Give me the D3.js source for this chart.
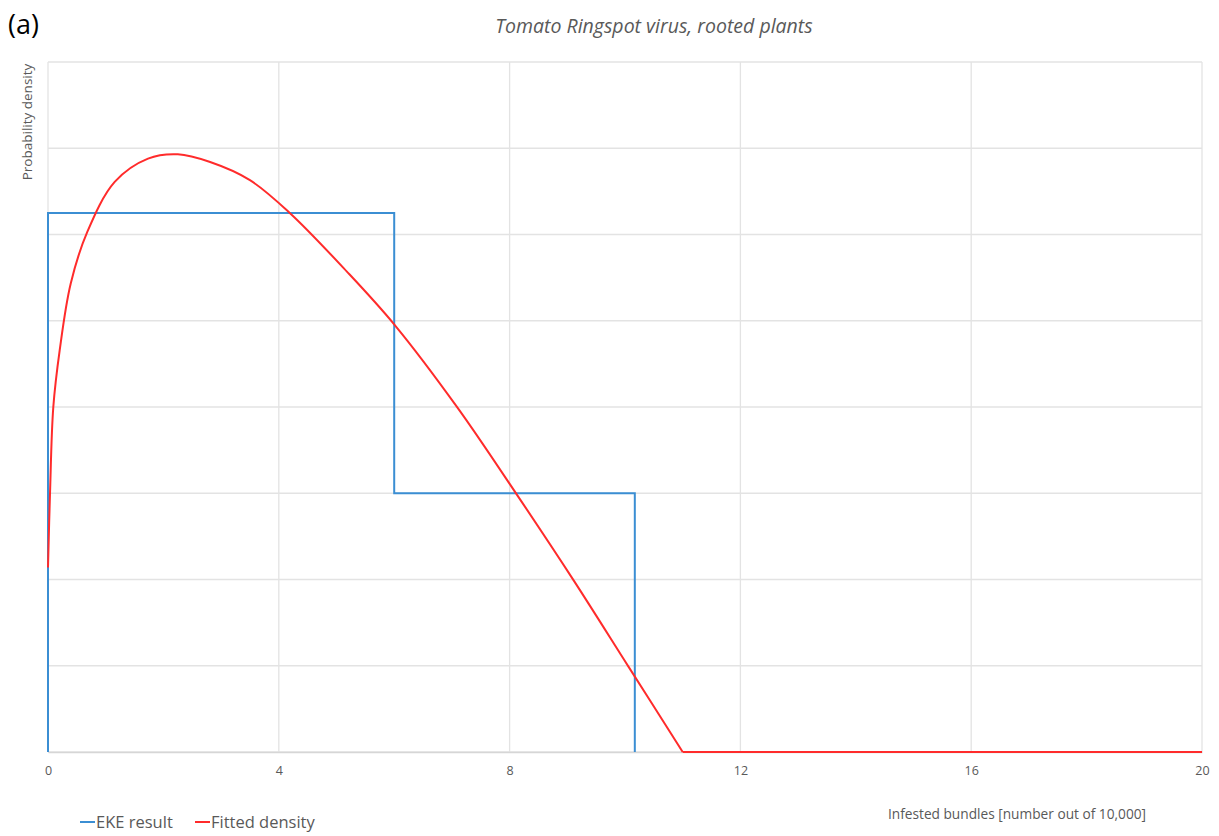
<!DOCTYPE html>
<html><head><meta charset="utf-8">
<script src="https://cdn.jsdelivr.net/npm/d3@7"></script>
<style>body{margin:0;background:#fff}svg{display:block}</style>
</head><body>
<svg id="chart" width="1219" height="836"></svg>
<script>
const xTicks = [0, 4, 8, 12, 16, 20];
const yGrid = [0, 1, 2, 3, 4, 5, 6, 7, 8];
const ekeX = [0, 0, 6, 6, 10.17, 10.17];
const ekeY = [0, 6.25, 6.25, 3, 3, 0];
const fitX = [0, 0.035, 0.092, 0.203, 0.393, 0.681, 1.156, 1.733, 2.25, 2.81, 3.5, 4.19, 5.18, 6.01, 7.1, 8.12, 9.11, 10.06, 11.0, 20];
const fitY = [2.14, 3.0, 4.0, 4.66, 5.43, 6.03, 6.61, 6.88, 6.93, 6.84, 6.63, 6.25, 5.57, 4.95, 3.99, 2.99, 1.99, 0.99, 0, 0];
const seriesNames = ["EKE result", "Fitted density"];
const colors = ["#3b8ed3", "#ff2b2b"];

const svg = d3.select("#chart");
const m = {left: 48, right: 1202, top: 62, bottom: 752};
const x = d3.scaleLinear().domain([0, 20]).range([m.left, m.right]);
const y = d3.scaleLinear().domain([0, 8]).range([m.bottom, m.top]);
const font = "'Open Sans', 'Noto Sans', sans-serif";

// gridlines
svg.append("g").selectAll("line").data(yGrid).join("line")
  .attr("x1", m.left).attr("x2", m.right)
  .attr("y1", d => y(d)).attr("y2", d => y(d))
  .attr("stroke", "#e3e3e3").attr("stroke-width", 1.3);
svg.append("g").selectAll("line").data(xTicks).join("line")
  .attr("x1", d => x(d)).attr("x2", d => x(d))
  .attr("y1", m.top).attr("y2", m.bottom)
  .attr("stroke", "#e3e3e3").attr("stroke-width", 1.3);

// x axis
const xAxis = d3.axisBottom(x).tickValues(xTicks).tickSize(0).tickPadding(14);
const gx = svg.append("g").attr("transform", `translate(0,${m.bottom})`).call(xAxis);
gx.select(".domain").attr("stroke", "#d6d6d6").attr("stroke-width", 1.5);
gx.selectAll("text").attr("font-family", font).attr("font-size", 12.5).attr("fill", "#595959");

// lines
const lineLin = d3.line().x(d => x(d[0])).y(d => y(d[1]));
const lineSmooth = d3.line().x(d => x(d[0])).y(d => y(d[1])).curve(d3.curveCatmullRom.alpha(0.5));
svg.append("path").datum(ekeX.map((v, i) => [v, ekeY[i]]))
  .attr("d", lineLin).attr("fill", "none").attr("stroke", colors[0]).attr("stroke-width", 2);
const fitPts = fitX.map((v, i) => [v, fitY[i]]);
const nCurve = fitPts.length - 1; // last point is the flat tail
svg.append("path").datum(fitPts.slice(0, nCurve))
  .attr("d", lineSmooth).attr("fill", "none").attr("stroke", colors[1]).attr("stroke-width", 2);
svg.append("path").datum(fitPts.slice(nCurve - 1))
  .attr("d", lineLin).attr("fill", "none").attr("stroke", colors[1]).attr("stroke-width", 2);

// titles
svg.append("text").attr("x", 8).attr("y", 34).text("(a)")
  .attr("font-family", font).attr("font-size", 27).attr("fill", "#000");
svg.append("text").attr("x", 654).attr("y", 33).attr("text-anchor", "middle")
  .text("Tomato Ringspot virus, rooted plants")
  .attr("font-family", font).attr("font-style", "italic").attr("font-size", 19.5).attr("fill", "#595959");
svg.append("text").attr("transform", "translate(32,122) rotate(-90)").attr("text-anchor", "middle")
  .text("Probability density")
  .attr("font-family", font).attr("font-size", 13.5).attr("fill", "#595959");
svg.append("text").attr("x", 1017).attr("y", 819).attr("text-anchor", "middle")
  .text("Infested bundles [number out of 10,000]")
  .attr("font-family", font).attr("font-size", 13.7).attr("fill", "#595959");

// legend
const lg = svg.append("g");
const legX = [80, 195];
seriesNames.forEach((n, i) => {
  lg.append("line").attr("x1", legX[i]).attr("x2", legX[i] + 15).attr("y1", 822).attr("y2", 822)
    .attr("stroke", colors[i]).attr("stroke-width", 2);
  lg.append("text").attr("x", legX[i] + 16).attr("y", 828).text(n)
    .attr("font-family", font).attr("font-size", 16.5).attr("fill", "#595959");
});
</script>
</body></html>
